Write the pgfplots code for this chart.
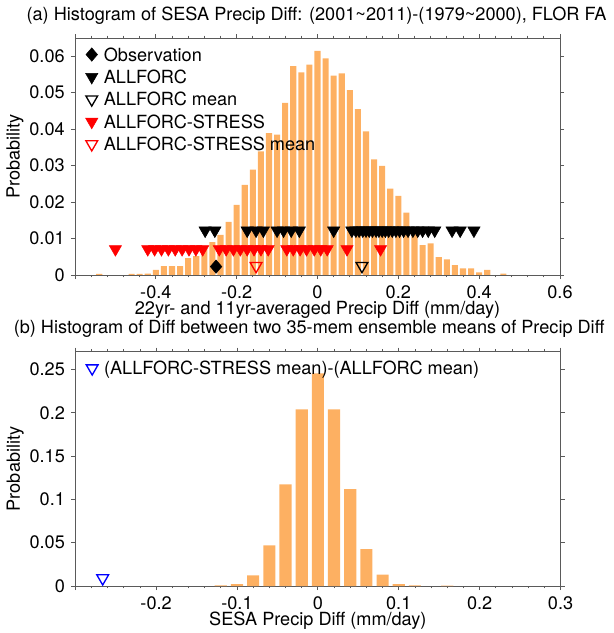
\documentclass[border=0pt]{standalone}
\usepackage{pgfplots}
\pgfplotsset{compat=1.18}
\usepackage{fontspec}
\setmainfont{TeX Gyre Heros}
\definecolor{barorange}{RGB}{253,176,98}
\definecolor{frame}{RGB}{90,90,90}
\begin{document}
\fontsize{13.6pt}{16pt}\selectfont
\begin{tikzpicture}
\useasboundingbox (0,0) rectangle (460.5pt,474.75pt);
\pgfplotsset{
  myaxis/.style={
    scale only axis, clip=false,
    every axis title shift=0pt,
    axis line style={frame, line width=0.6pt},
    every tick/.style={frame, line width=0.6pt},
    tick align=outside,
    major tick length=3pt, minor tick length=1.8pt,
    xticklabel style={inner sep=1pt, yshift=-3.5pt},
    scaled x ticks=false, scaled y ticks=false,
    /pgf/number format/assume math mode=true,
    legend cell align=left,
    legend style={draw=none, fill=none, inner sep=0pt, row sep=0pt,
      nodes={inner ysep=0pt, inner xsep=2pt, text height=13.3pt, text depth=3.5pt},
      /tikz/every odd column/.append style={column sep=2.5pt}},
    every axis plot post/.append style={legend image code/.code={\draw[##1] plot coordinates {(0pt,0pt)};}},
  },
  tri/.style={only marks, mark=triangle*, mark size=5.3pt, mark options={rotate=180, fill=#1, draw=#1}},
  otri/.style={only marks, mark=triangle, mark size=5.1pt, mark options={rotate=180, draw=#1, line width=1pt}},
}
% ---------------- panel (a)
\begin{axis}[myaxis,
  at={(56.25pt,268.5pt)}, anchor=south west, width=363.75pt, height=177.75pt,
  xmin=-0.6, xmax=0.6, ymin=0, ymax=0.065,
  xtick={-0.6,-0.4,-0.2,0,0.2,0.4,0.6}, xticklabels={,-0.4,-0.2,0,0.2,0.4,0.6},
  minor x tick num=4,
  ytick={0,0.01,0.02,0.03,0.04,0.05,0.06}, yticklabels={0,0.01,0.02,0.03,0.04,0.05,0.06},
  title={(a) Histogram of SESA Precip Diff: (2001\textasciitilde2011)-(1979\textasciitilde2000), FLOR FA},
  title style={at={(axis description cs:0.498,1.0928)}, anchor=center, inner sep=0pt},
  xlabel={22yr- and 11yr-averaged Precip Diff (mm/day)},
  xlabel style={at={(axis description cs:0.5,-0.1477)}, anchor=center, inner sep=0pt},
  ylabel={Probability},
  ylabel style={at={(axis description cs:-0.1237,0.5)}, anchor=center, inner sep=0pt},
  legend style={at={(axis description cs:0.0214,0.9786)}, anchor=north west},
]
\addplot[ybar, bar width=0.015, bar shift=0pt, fill=barorange, draw=none, forget plot] coordinates {
(-0.54,0.0003) (-0.46,0.0003) (-0.44,0.0003) (-0.42,0.0004) (-0.40,0.0014)
(-0.38,0.0024) (-0.36,0.0024) (-0.34,0.0024) (-0.32,0.0046) (-0.30,0.0052)
(-0.28,0.0075) (-0.26,0.0090) (-0.24,0.0110) (-0.22,0.0146) (-0.20,0.0192)
(-0.18,0.0247) (-0.16,0.0289) (-0.14,0.0339) (-0.12,0.0389) (-0.10,0.0385)
(-0.08,0.0472) (-0.06,0.0573) (-0.04,0.0556) (-0.02,0.0577) (0.00,0.0615)
(0.02,0.0594) (0.04,0.0547) (0.06,0.0553) (0.08,0.0507) (0.10,0.0455)
(0.12,0.0394) (0.14,0.0317) (0.16,0.0299) (0.18,0.0237) (0.20,0.0217)
(0.22,0.0171) (0.24,0.0125) (0.26,0.0082) (0.28,0.0087) (0.30,0.0049)
(0.32,0.0043) (0.34,0.0027) (0.36,0.0018) (0.38,0.0018) (0.40,0.0007)
(0.42,0.0014) (0.46,0.0004)
};
\addplot[only marks, mark=diamond*, mark size=5pt, mark options={fill=black, draw=black, xscale=1.15}]
  coordinates {(-0.251,0.0023)};
\addlegendentry{Observation}
\addplot[tri=black] coordinates {
(-0.278,0.0122) (-0.254,0.0122) (-0.174,0.0122) (-0.152,0.0122) (-0.134,0.0122)
(-0.100,0.0122) (-0.084,0.0122) (-0.065,0.0122) (-0.045,0.0122) (0.040,0.0122)
(0.085,0.0122) (0.095,0.0122) (0.103,0.0122) (0.112,0.0122) (0.120,0.0122)
(0.128,0.0122) (0.136,0.0122) (0.145,0.0122) (0.152,0.0122) (0.160,0.0122)
(0.168,0.0122) (0.176,0.0122) (0.185,0.0122) (0.194,0.0122) (0.203,0.0122)
(0.213,0.0122) (0.224,0.0122) (0.236,0.0122) (0.248,0.0122) (0.260,0.0122)
(0.274,0.0122) (0.290,0.0122) (0.333,0.0122) (0.353,0.0122) (0.387,0.0122)
};
\addlegendentry{ALLFORC}
\addplot[otri=black] coordinates {(0.110,0.0025)};
\addlegendentry{ALLFORC mean}
\addplot[tri=red] coordinates {
(-0.500,0.0071)
(-0.420,0.0071) (-0.403,0.0071) (-0.386,0.0071) (-0.369,0.0071) (-0.352,0.0071)
(-0.335,0.0071) (-0.318,0.0071) (-0.301,0.0071) (-0.284,0.0071)
(-0.243,0.0071) (-0.226,0.0071) (-0.208,0.0071) (-0.191,0.0071) (-0.174,0.0071)
(-0.157,0.0071) (-0.140,0.0071) (-0.122,0.0071)
(-0.076,0.0071) (-0.060,0.0071) (-0.043,0.0071) (-0.027,0.0071)
(-0.008,0.0071) (0.008,0.0071) (0.024,0.0071)
(0.073,0.0071) (0.156,0.0071)
};
\addlegendentry{ALLFORC-STRESS}
\addplot[otri=red] coordinates {(-0.152,0.0025)};
\addlegendentry{ALLFORC-STRESS mean}
\end{axis}
% ---------------- panel (b)
\begin{axis}[myaxis,
  at={(56.4pt,35.25pt)}, anchor=south west, width=364pt, height=175.7pt,
  xmin=-0.3, xmax=0.3, ymin=0, ymax=0.2705,
  xtick={-0.3,-0.2,-0.1,0,0.1,0.2,0.3}, xticklabels={,-0.2,-0.1,0,0.1,0.2,0.3},
  minor x tick num=4,
  ytick={0,0.05,0.1,0.15,0.2,0.25}, yticklabels={0,0.05,0.1,0.15,0.2,0.25},
  title={(b) Histogram of Diff between two 35-mem ensemble means of Precip Diff},
  title style={at={(axis description cs:0.482,1.097)}, anchor=center, inner sep=0pt},
  xlabel={SESA Precip Diff (mm/day)},
  xlabel style={at={(axis description cs:0.5,-0.149)}, anchor=center, inner sep=0pt},
  ylabel={Probability},
  ylabel style={at={(axis description cs:-0.1235,0.5)}, anchor=center, inner sep=0pt},
  legend style={at={(axis description cs:0.0223,0.9784)}, anchor=north west},
]
\addplot[ybar, bar width=0.015, bar shift=0pt, fill=barorange, draw=none, forget plot] coordinates {
(-0.12,0.0006) (-0.10,0.0023) (-0.08,0.0123) (-0.06,0.0470) (-0.04,0.1174)
(-0.02,0.2040) (0.00,0.2456) (0.02,0.2040) (0.04,0.1120) (0.06,0.0427)
(0.08,0.0130) (0.10,0.0023) (0.12,0.0006) (0.16,0.0005)
};
\addplot[otri=blue] coordinates {(-0.266,0.009)};
\addlegendentry{(ALLFORC-STRESS mean)-(ALLFORC mean)}
\end{axis}
\end{tikzpicture}
\end{document}
